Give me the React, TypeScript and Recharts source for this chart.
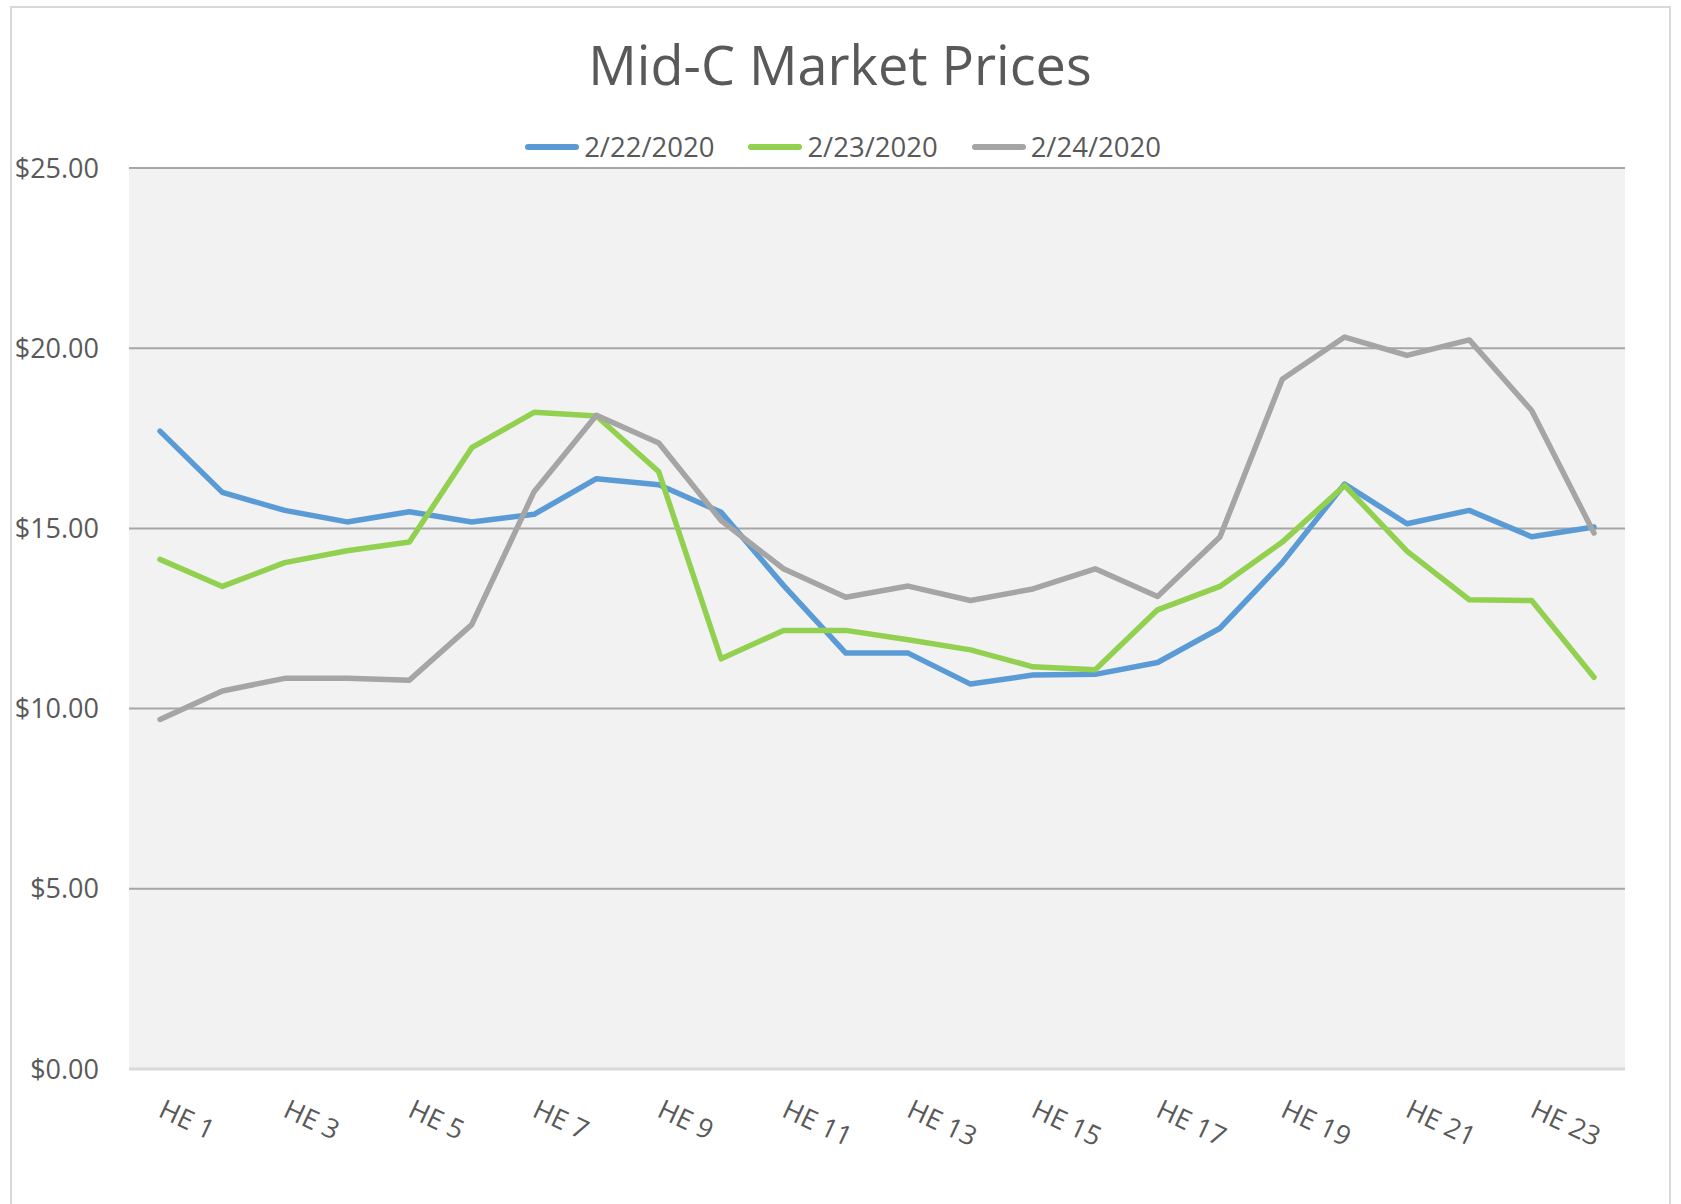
import {
  LineChart,
  Line,
  XAxis,
  YAxis,
  CartesianGrid,
  Legend,
} from "recharts";

const hours = [
  "HE 1", "HE 2", "HE 3", "HE 4", "HE 5", "HE 6", "HE 7", "HE 8",
  "HE 9", "HE 10", "HE 11", "HE 12", "HE 13", "HE 14", "HE 15", "HE 16",
  "HE 17", "HE 18", "HE 19", "HE 20", "HE 21", "HE 22", "HE 23", "HE 24",
];

const feb22 = [
  17.7, 16.0, 15.5, 15.18, 15.46, 15.18, 15.39, 16.38, 16.21, 15.45, 13.42, 11.54,
  11.54, 10.68, 10.93, 10.95, 11.28, 12.23, 14.05, 16.23, 15.13, 15.5, 14.77, 15.04,
];

const feb23 = [
  14.14, 13.39, 14.05, 14.38, 14.62, 17.24, 18.22, 18.12, 16.57, 11.38, 12.17, 12.17,
  11.91, 11.63, 11.16, 11.08, 12.74, 13.39, 14.62, 16.19, 14.37, 13.02, 13.0, 10.87,
];

const feb24 = [
  9.7, 10.49, 10.84, 10.84, 10.79, 12.33, 16.02, 18.14, 17.37, 15.22, 13.88, 13.09,
  13.4, 13.0, 13.32, 13.88, 13.11, 14.76, 19.14, 20.31, 19.8, 20.23, 18.27, 14.87,
];

const priceTicks = [0, 5, 10, 15, 20, 25];

const rows = hours.map((hour, i) => ({
  hour,
  d22: feb22[i],
  d23: feb23[i],
  d24: feb24[i],
}));

const FONT = "'Open Sans', sans-serif";
const TEXT = "#595959";

function HourTick(props: any) {
  const { x, y, payload } = props;
  const tx = x - 3;
  const ty = y + 47;
  return (
    <text
      x={tx}
      y={ty}
      transform={`rotate(25, ${tx}, ${ty})`}
      fill={TEXT}
      fontSize={27}
      fontFamily={FONT}
      textAnchor="start"
    >
      {payload.value}
    </text>
  );
}

function LegendRow(props: any) {
  const items = props.payload || [];
  return (
    <div
      style={{
        display: "flex",
        justifyContent: "center",
        alignItems: "center",
        gap: 34,
        fontFamily: FONT,
        fontSize: 27.5,
        color: TEXT,
      }}
    >
      {items.map((item: any) => (
        <div key={item.value} style={{ display: "flex", alignItems: "center" }}>
          <span
            style={{
              display: "inline-block",
              width: 54,
              height: 6,
              borderRadius: 3,
              background: item.color,
              marginRight: 5,
            }}
          />
          <span>{item.value}</span>
        </div>
      ))}
    </div>
  );
}

export default function App() {
  return (
    <div
      style={{
        position: "absolute",
        left: 0,
        top: 0,
        width: 1681,
        height: 1204,
        overflow: "hidden",
        background: "#fff",
      }}
    >
      <div
        style={{
          position: "absolute",
          left: 10,
          top: 6,
          width: 1657,
          height: 1230,
          border: "2px solid #d9d9d9",
        }}
      />
      <div
        style={{
          position: "absolute",
          left: 10,
          top: 37,
          width: 1660,
          textAlign: "center",
          fontFamily: FONT,
          fontSize: 54,
          lineHeight: "55px",
          color: TEXT,
        }}
      >
        Mid-C Market Prices
      </div>
      <div style={{ position: "absolute", left: 0, top: 0 }}>
        <LineChart
          width={1681}
          height={1204}
          data={rows}
          margin={{ top: 168, right: 56, left: 29, bottom: 75 }}
        >
          <CartesianGrid
            vertical={false}
            fill="#f2f2f2"
            stroke="#a6a6a6"
            strokeWidth={2}
          />
          <XAxis
            dataKey="hour"
            interval={1}
            padding={{ left: 31, right: 31 }}
            height={60}
            tickSize={0}
            tickMargin={0}
            tickLine={false}
            axisLine={{ stroke: "#d9d9d9", strokeWidth: 3 }}
            tick={<HourTick />}
          />
          <YAxis
            domain={[0, 25]}
            ticks={priceTicks}
            width={100}
            tickSize={0}
            tickMargin={30}
            axisLine={false}
            tickLine={false}
            tickFormatter={(v: number) => `$${v.toFixed(2)}`}
            tick={{ fill: TEXT, fontSize: 27, fontFamily: FONT }}
          />
          <Legend
            layout="horizontal"
            verticalAlign="middle"
            align="center"
            content={<LegendRow />}
            wrapperStyle={{ top: 128, left: 13, width: 1660, height: 40 }}
          />
          <Line
            type="linear"
            dataKey="d22"
            name="2/22/2020"
            stroke="#5b9bd5"
            strokeWidth={5.5}
            strokeLinecap="round"
            strokeLinejoin="round"
            dot={false}
            isAnimationActive={false}
          />
          <Line
            type="linear"
            dataKey="d23"
            name="2/23/2020"
            stroke="#92d050"
            strokeWidth={5.5}
            strokeLinecap="round"
            strokeLinejoin="round"
            dot={false}
            isAnimationActive={false}
          />
          <Line
            type="linear"
            dataKey="d24"
            name="2/24/2020"
            stroke="#a5a5a5"
            strokeWidth={5.5}
            strokeLinecap="round"
            strokeLinejoin="round"
            dot={false}
            isAnimationActive={false}
          />
        </LineChart>
      </div>
    </div>
  );
}
